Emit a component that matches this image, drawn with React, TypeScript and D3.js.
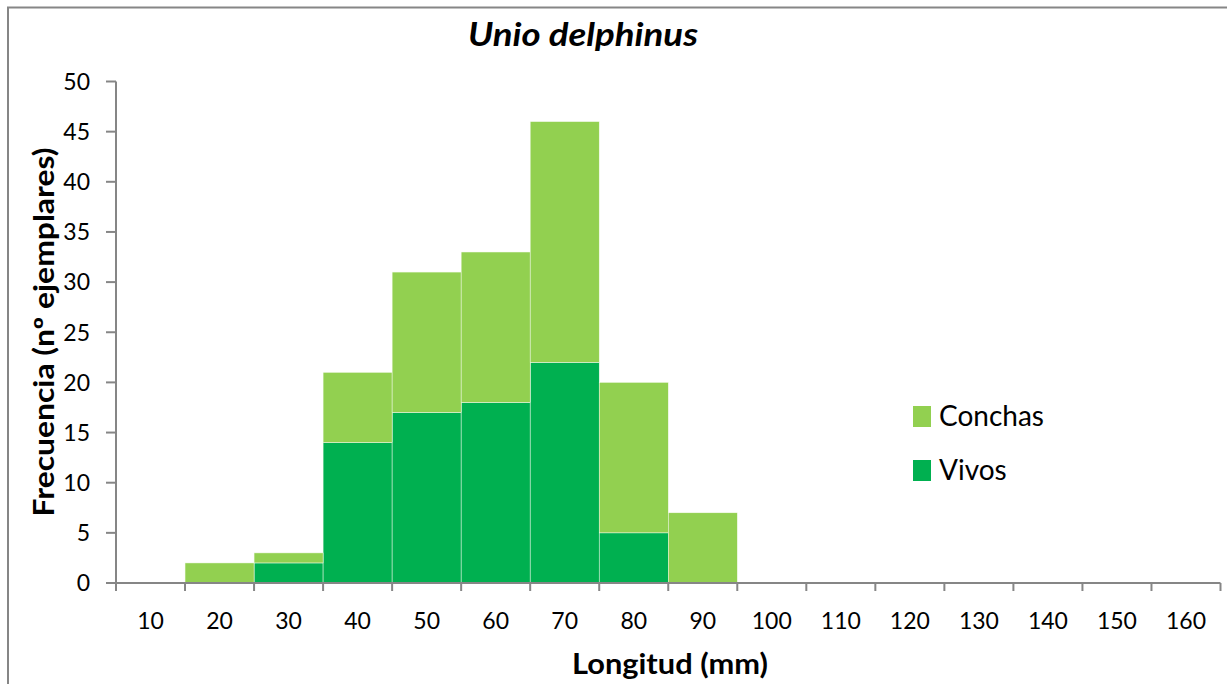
import React from "react";
import * as d3 from "d3";

// categories (shell length classes, mm) and counts per class
const lengths = ["10", "20", "30", "40", "50", "60", "70", "80", "90", "100", "110", "120", "130", "140", "150", "160"];
const vivos = [0, 0, 2, 14, 17, 18, 22, 5, 0, 0, 0, 0, 0, 0, 0, 0];
const conchas = [0, 2, 1, 7, 14, 15, 24, 15, 7, 0, 0, 0, 0, 0, 0, 0];
const yTicks = [0, 5, 10, 15, 20, 25, 30, 35, 40, 45, 50];
const seriesNames = ["Vivos", "Conchas"];
const colors: Record<string, string> = { Vivos: "#00B050", Conchas: "#92D050" };

const W = 1227, H = 684;
const font = "Lato, 'Open Sans', sans-serif";
const axisColor = "#868686";

export default function App() {
  // table for the stack layout
  const rows = lengths.map((l, i) => ({ len: l, Vivos: vivos[i], Conchas: conchas[i] }));
  const stacked = d3.stack<any>().keys(seriesNames)(rows);

  const x = d3.scaleBand().domain(lengths).range([116, 1220.5]).padding(0);
  const y = d3.scaleLinear().domain([0, 50]).range([583, 81.5]);

  const tickXs = lengths.map(l => x(l)!).concat([x.range()[1]]);

  return (
    <svg width={W} height={H} style={{ position: "absolute", left: 0, top: 0, background: "#fff" }}>
      <rect x={8} y={7.5} width={1260} height={720} fill="#fff" stroke={axisColor} strokeWidth={2} />

      {/* bars */}
      {stacked.map(s => (
        <g key={s.key}>
          {s.map((d, i) => d[1] - d[0] > 0 && (
            <rect key={i} x={x(lengths[i])} y={y(d[1])} width={x.bandwidth()} height={y(d[0]) - y(d[1])}
              fill={colors[s.key]} stroke="#f4faee" strokeWidth={0.5} />
          ))}
        </g>
      ))}

      {/* y axis */}
      <line x1={116} x2={116} y1={y(50)} y2={y(0)} stroke={axisColor} strokeWidth={2} />
      {yTicks.map(t => (
        <g key={t}>
          <line x1={106} x2={116} y1={y(t)} y2={y(t)} stroke={axisColor} strokeWidth={2} />
          <text x={90} y={y(t)} dy="0.36em" textAnchor="end" fontFamily={font} fontSize={23} fill="#000">{t}</text>
        </g>
      ))}

      {/* x axis */}
      <line x1={x.range()[0] - 10} x2={x.range()[1]} y1={y(0)} y2={y(0)} stroke={axisColor} strokeWidth={2} />
      {tickXs.map((tx, i) => (
        <line key={i} x1={tx} x2={tx} y1={y(0)} y2={y(0) + 8} stroke={axisColor} strokeWidth={2} />
      ))}
      {lengths.map(l => (
        <text key={l} x={x(l)! + x.bandwidth() / 2} y={629} textAnchor="middle" fontFamily={font} fontSize={23} fill="#000">{l}</text>
      ))}

      {/* titles */}
      <text x={583} y={46} textAnchor="middle" fontFamily={font} fontSize={33} fontWeight="bold" fontStyle="italic" fill="#000"
        textLength={230} lengthAdjust="spacingAndGlyphs">Unio delphinus</text>
      <text x={670} y={674} textAnchor="middle" fontFamily={font} fontSize={28} fontWeight="bold" fill="#000"
        textLength={196} lengthAdjust="spacingAndGlyphs">Longitud (mm)</text>
      <text transform="translate(54,332) rotate(-90)" textAnchor="middle" fontFamily={font} fontSize={28} fontWeight="bold" fill="#000"
        textLength={369} lengthAdjust="spacingAndGlyphs">Frecuencia (nº ejemplares)</text>

      {/* legend */}
      {["Conchas", "Vivos"].map((k, i) => (
        <g key={k} transform={`translate(913,${406 + i * 54})`}>
          <rect width={18} height={21} fill={colors[k]} />
          <text x={26} y={20} fontFamily={font} fontSize={28} fill="#000">{k}</text>
        </g>
      ))}
    </svg>
  );
}
